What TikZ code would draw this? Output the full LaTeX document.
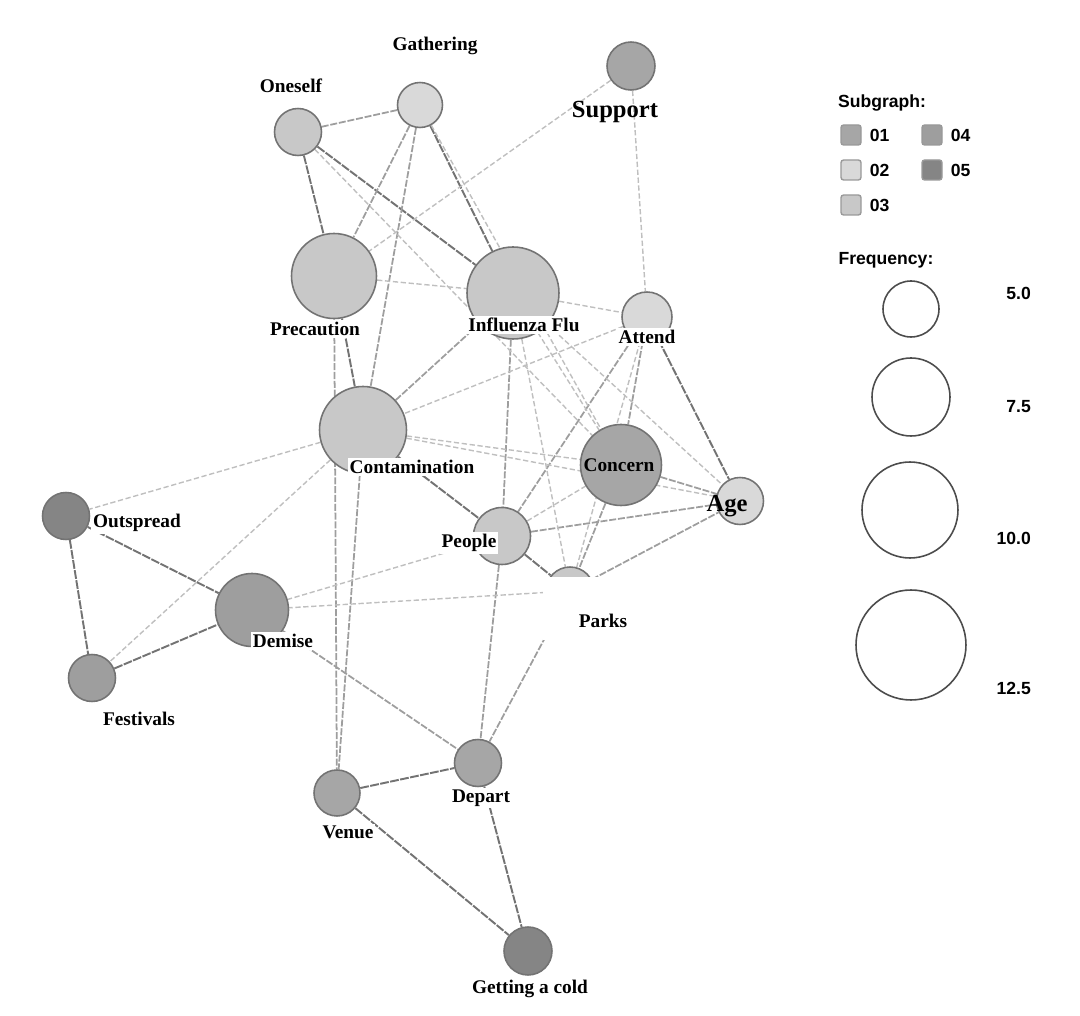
\documentclass[tikz,border=0pt]{standalone}
\usepackage{fontspec}
\setmainfont{Liberation Serif}
\setsansfont{Liberation Sans}
\usetikzlibrary{positioning,backgrounds}

\definecolor{grpA}{HTML}{A6A6A6}
\definecolor{grpB}{HTML}{D9D9D9}
\definecolor{grpC}{HTML}{C8C8C8}
\definecolor{grpD}{HTML}{9E9E9E}
\definecolor{grpE}{HTML}{858585}

\tikzset{
  term/.style={circle, draw=black!55, line width=0.9pt, inner sep=0pt},
  tag/.style={font=\bfseries\fontsize{11}{12}\selectfont, fill=white, inner sep=1pt},
  bigtag/.style={font=\bfseries\fontsize{14}{15}\selectfont, inner sep=0pt},
  firmlink/.style={draw=black!55, line width=1.1pt, dash pattern=on 5pt off 0.8pt},
  midlink/.style={draw=black!38, line width=1pt, dash pattern=on 4pt off 1pt},
  palelink/.style={draw=black!25, line width=0.8pt, dash pattern=on 3pt off 1.5pt},
  swatch/.style={draw=black!40, line width=0.8pt, rounded corners=1.5pt, minimum size=0.4cm, inner sep=0pt},
  keytext/.style={font=\sffamily\bfseries\fontsize{10}{11}\selectfont, inner sep=1pt},
  sizekey/.style={circle, draw=black!70, line width=0.9pt, inner sep=0pt},
}

\begin{document}
\begin{tikzpicture}[x=0.02cm, y=-0.02cm]
\useasboundingbox (0,0) rectangle (1080,1016);

% terms
\node[term, fill=grpB, minimum size=0.9cm]  (gathering) at (420,105) {};
\node[term, fill=grpC, minimum size=0.94cm] (oneself)   at (298,132) {};
\node[term, fill=grpA, minimum size=0.96cm] (support)   at (631,66)  {};
\node[term, fill=grpC, minimum size=1.7cm]  (precaution) at (334,276) {};
\node[term, fill=grpC, minimum size=1.84cm] (flu)       at (513,293) {};
\node[term, fill=grpB, minimum size=1.0cm]  (attend)    at (647,317) {};
\node[term, fill=grpC, minimum size=1.74cm] (contam)    at (363,430) {};
\node[term, fill=grpA, minimum size=1.62cm] (concern)   at (621,465) {};
\node[term, fill=grpB, minimum size=0.94cm] (age)       at (740,501) {};
\node[term, fill=grpC, minimum size=1.14cm] (people)    at (502,536) {};
\node[term, fill=grpC, minimum size=0.96cm] (parks)     at (570,591) {};
\node[term, fill=grpE, minimum size=0.94cm] (outspread) at (66,516)  {};
\node[term, fill=grpD, minimum size=1.46cm] (demise)    at (252,610) {};
\node[term, fill=grpD, minimum size=0.94cm] (festivals) at (92,678)  {};
\node[term, fill=grpA, minimum size=0.92cm] (venue)     at (337,793) {};
\node[term, fill=grpA, minimum size=0.94cm] (depart)    at (478,763) {};
\node[term, fill=grpE, minimum size=0.96cm] (cold)      at (528,951) {};

% co-occurrence links
\begin{scope}[on background layer]
\foreach \a/\b in {oneself/precaution, oneself/flu, gathering/flu, precaution/contam,
    contam/people, people/parks, attend/age, outspread/demise, outspread/festivals,
    festivals/demise, venue/depart, depart/cold, venue/cold}
  \draw[firmlink] (\a) -- (\b);
\foreach \a/\b in {oneself/gathering, gathering/precaution, gathering/contam, contam/flu,
    attend/people, people/age, demise/depart, attend/concern, concern/age,
    precaution/venue, contam/venue, flu/people, people/depart, parks/depart,
    parks/age, concern/parks}
  \draw[midlink] (\a) -- (\b);
\foreach \a/\b in {support/precaution, support/attend, precaution/flu, flu/attend,
    attend/contam, contam/concern, contam/age, contam/outspread, contam/festivals,
    oneself/concern, gathering/concern, flu/concern, flu/parks, flu/age,
    people/concern, people/demise, parks/demise, attend/parks}
  \draw[palelink] (\a) -- (\b);
\end{scope}

% labels
\fill[white] (543,577) rectangle (665,640);
\node[tag] (tGathering) at (435,46)  {Gathering};
\node[tag] (tOneself)   at (291,86)  {Oneself};
\node[bigtag] (tSupport) at (615,112) {Support};
\node[tag] (tPrecaution) at (315,329) {Precaution};
\node[tag] (tFlu)       at (524,325) {Influenza Flu};
\node[tag] (tAttend)    at (647,337) {Attend};
\node[tag] (tContam)    at (412,467) {Contamination};
\node[tag, fill=none] (tConcern) at (619,465) {Concern};
\node[bigtag] (tAge)    at (727,506) {Age};
\node[tag] (tPeople)    at (469,543) {People};
\node[tag] (tParks)     at (603,621) {Parks};
\node[tag] (tOutspread) at (137,523) {Outspread};
\node[tag] (tDemise)    at (283,641) {Demise};
\node[tag] (tFestivals) at (139,719) {Festivals};
\node[tag] (tVenue)     at (348,832) {Venue};
\node[tag] (tDepart)    at (481,798) {Depart};
\node[tag] (tCold)      at (530,989) {Getting a cold};

% legend
\node[keytext] (subgraph) at (882,103) {Subgraph:};
\node[swatch, fill=grpA] (sw01) at (851,135) {};
\node[swatch, fill=grpB] (sw02) at (851,170) {};
\node[swatch, fill=grpC] (sw03) at (851,205) {};
\node[swatch, fill=grpD] (sw04) at (932,135) {};
\node[swatch, fill=grpE] (sw05) at (932,170) {};
\node[keytext, right=3.5pt of sw01] (k01) {01};
\node[keytext, right=3.5pt of sw02] (k02) {02};
\node[keytext, right=3.5pt of sw03] (k03) {03};
\node[keytext, right=3.5pt of sw04] (k04) {04};
\node[keytext, right=3.5pt of sw05] (k05) {05};

\node[keytext] (frequency) at (886,260) {Frequency:};
\node[sizekey, minimum size=1.12cm] (s50)  at (911,309) {};
\node[sizekey, minimum size=1.56cm] (s75)  at (911,397) {};
\node[sizekey, minimum size=1.92cm] (s100) at (910,510) {};
\node[sizekey, minimum size=2.2cm]  (s125) at (911,645) {};
\node[keytext, anchor=east] (f50)  at (1033,293) {5.0};
\node[keytext, anchor=east] (f75)  at (1033,407) {7.5};
\node[keytext, anchor=east] (f100) at (1033,538) {10.0};
\node[keytext, anchor=east] (f125) at (1033,688) {12.5};
\end{tikzpicture}
\end{document}
